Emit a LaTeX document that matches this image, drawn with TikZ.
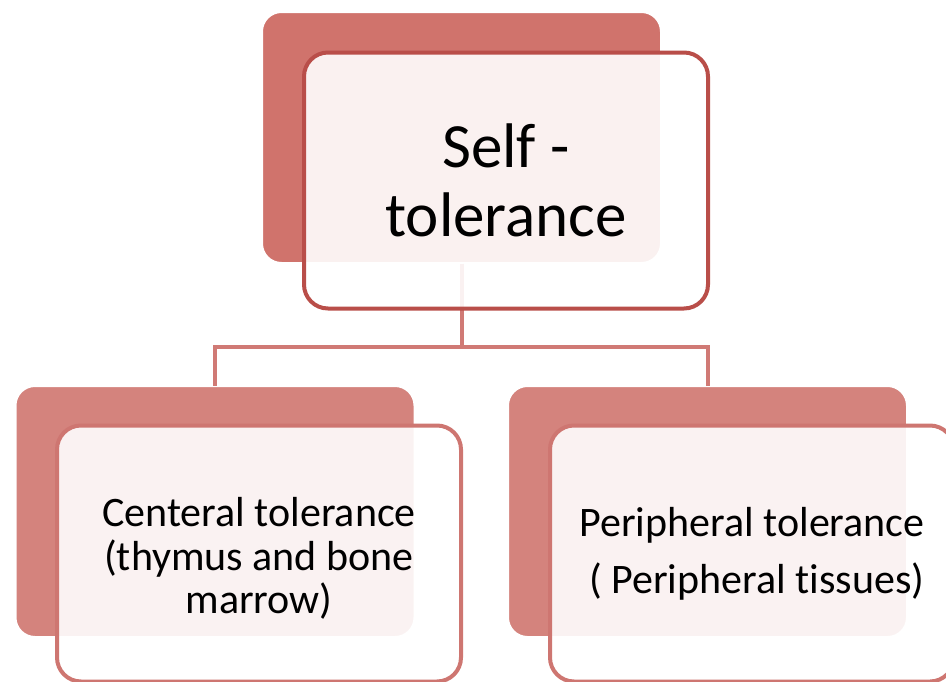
\documentclass[tikz,border=0pt]{standalone}
\usepackage{fontspec}
\setmainfont{Carlito}[Ligatures={NoCommon}]
\definecolor{backtop}{RGB}{208,115,108}
\definecolor{backbot}{RGB}{212,131,125}
\definecolor{edgetop}{RGB}{185,78,73}
\definecolor{edgebot}{RGB}{206,118,113}
\definecolor{linkcol}{RGB}{208,122,117}
\begin{document}
\begin{tikzpicture}[x=1pt,y=-1pt,
  backbox/.style={rectangle, rounded corners=20pt, draw=white, line width=3pt,
    inner sep=0pt, outer sep=0pt, minimum width=400pt, minimum height=252pt},
  frontbox/.style={rectangle, rounded corners=24pt, line width=4pt,
    fill=white, fill opacity=0.9, text opacity=1,
    inner sep=0pt, outer sep=0pt, minimum width=404pt, minimum height=256pt,
    align=center},
  link/.style={draw=linkcol, line width=4pt}]
\useasboundingbox (0,0) rectangle (946,681);
\clip (0,0) rectangle (946,681);
% back boxes
\node[backbox, fill=backtop] (tb) at (461.5,137.5) {};
\node[backbox, fill=backbot] (lb) at (215,511.5) {};
\node[backbox, fill=backbot] (rb) at (707.5,511.5) {};
% connectors
\coordinate (bus) at (461.5,346.5);
\draw[link] (tb.south) -- (bus);
\draw[link] (bus) -| (lb.north);
\draw[link] (bus) -| (rb.north);
% front boxes
\node[frontbox, draw=edgetop, font=\fontsize{63}{69}\selectfont] (tf) at (506,180.5)
  {Self -\\tolerance};
\node[frontbox, draw=edgebot, font=\fontsize{42}{43.5}\selectfont] (lf) at (259,553.5)
  {\raisebox{-5pt}[\dimexpr\height+5pt][\dimexpr\depth+5pt]{\parbox{404pt}{\centering Centeral tolerance\\(thymus and bone\\marrow)}}};
\node[frontbox, draw=edgebot, font=\fontsize{42}{57}\selectfont] (rf) at (752,553.5)
  {Peripheral tolerance\\\ ( Peripheral tissues)};
\end{tikzpicture}
\end{document}
